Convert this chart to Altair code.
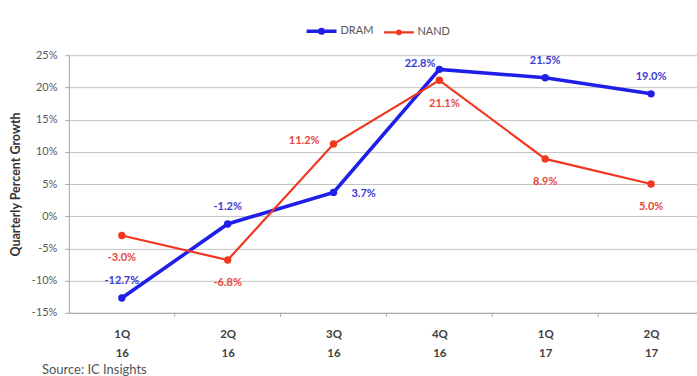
import altair as alt
import pandas as pd

# Quarterly growth, DRAM vs NAND
quarters = ["1Q 16", "2Q 16", "3Q 16", "4Q 16", "1Q 17", "2Q 17"]
series_names = ["DRAM", "NAND"]
dram = [-12.7, -1.2, 3.7, 22.8, 21.5, 19.0]
nand = [-3.0, -6.8, 11.2, 21.1, 8.9, 5.0]

rows = []
for name, vals in zip(series_names, [dram, nand]):
    for i, (q, v) in enumerate(zip(quarters, vals)):
        rows.append({"idx": i, "quarter": q, "series": name, "value": v,
                     "label": f"{v:.1f}%"})
df = pd.DataFrame(rows)

# category boundaries for the x-axis tick marks
bounds = pd.DataFrame({"b": [i + 0.5 for i in range(len(quarters) - 1)]})

BLUE = "#1f1fe8"
RED = "#f2371f"
BLUE_TXT = "#3a3ad6"
RED_TXT = "#e8453c"
FONT = "Lato"
W, H = 629, 258
X_DOMAIN = [-0.5, W / 106 - 0.5]

label_expr = "[" + ",".join(
    "['{}','{}']".format(*q.split(" ")) for q in quarters) + "][datum.value]"

x = alt.X(
    "idx:Q",
    scale=alt.Scale(domain=X_DOMAIN, nice=False, zero=False),
    axis=alt.Axis(
        values=list(range(len(quarters))), labelExpr=label_expr, ticks=False,
        grid=False, title=None, domainColor="#a6a6a6", labelFont=FONT,
        labelFontWeight="bold", labelFontSize=11.5, labelColor="#404040",
        labelLineHeight=19, labelPadding=16,
    ),
)
y = alt.Y(
    "value:Q",
    scale=alt.Scale(domain=[-15, 25], nice=False),
    axis=alt.Axis(
        values=list(range(-15, 30, 5)), labelExpr="datum.value + '%'",
        title="Quarterly Percent Growth", titleFont=FONT, titleFontSize=12.5,
        titleFontWeight="bold", titleColor="#333333", titlePadding=9,
        labelFont=FONT, labelFontSize=11, labelColor="#595959", labelPadding=8,
        gridColor="#c4c4c4", domainColor="#a6a6a6", tickColor="#a6a6a6",
        tickSize=4,
    ),
)

color_scale = alt.Scale(domain=series_names, range=[BLUE, RED])
legend_symbol = ("M-1,0L1,0M0.12,0A0.12,0.12 0 1,1 -0.12,0"
                 "A0.12,0.12 0 1,1 0.12,0")

base = alt.Chart(df)

lines = base.mark_line().encode(
    x=x, y=y,
    color=alt.Color("series:N", scale=color_scale, legend=alt.Legend(
        orient="none", legendX=236, legendY=-41, direction="horizontal",
        title=None, symbolType=legend_symbol, symbolSize=900,
        symbolStrokeWidth=3, labelFont=FONT, labelFontSize=11,
        labelColor="#555555", columnPadding=6, labelOffset=2)),
    strokeWidth=alt.StrokeWidth("series:N", scale=alt.Scale(
        domain=series_names, range=[3.6, 2.2]), legend=None),
)

points = base.mark_point(filled=True, opacity=1, size=55).encode(
    x=x, y=y,
    color=alt.Color("series:N", scale=color_scale, legend=None),
)


def labels(series, idxs, txt_color, **kw):
    return base.transform_filter(
        alt.FieldEqualPredicate(field="series", equal=series)
    ).transform_filter(
        alt.FieldOneOfPredicate(field="idx", oneOf=idxs)
    ).mark_text(font=FONT, fontSize=11, fontWeight="bold", color=txt_color,
                **kw).encode(x=x, y=y, text="label:N")


label_layers = [
    labels("DRAM", [0, 1, 4, 5], BLUE_TXT, dy=-17),
    labels("DRAM", [2], BLUE_TXT, align="left", dx=18, dy=2),
    labels("DRAM", [3], BLUE_TXT, align="right", dx=-4, dy=-5),
    labels("NAND", [0, 1, 4, 5], RED_TXT, dy=23),
    labels("NAND", [2], RED_TXT, align="right", dx=-14, dy=-3),
    labels("NAND", [3], RED_TXT, dx=5, dy=24),
]

ticks = alt.Chart(bounds).mark_rule(color="#a6a6a6").encode(
    x=alt.X("b:Q", scale=alt.Scale(domain=X_DOMAIN, nice=False, zero=False)),
    y=alt.value(H), y2=alt.value(H + 4),
)

source = alt.Chart(alt.Data(values=[{}])).mark_text(
    text="Source: IC Insights", align="left", baseline="middle", font=FONT,
    fontSize=13, color="#555555",
).encode(x=alt.value(-27), y=alt.value(H + 57))

chart = alt.layer(ticks, lines, points, *label_layers, source).properties(
    width=W, height=H,
    padding={"left": 9, "top": 14, "right": 0, "bottom": 0},
).configure_view(stroke=None)

chart.save("out.html", embed_options={"renderer": "svg", "actions": False})
